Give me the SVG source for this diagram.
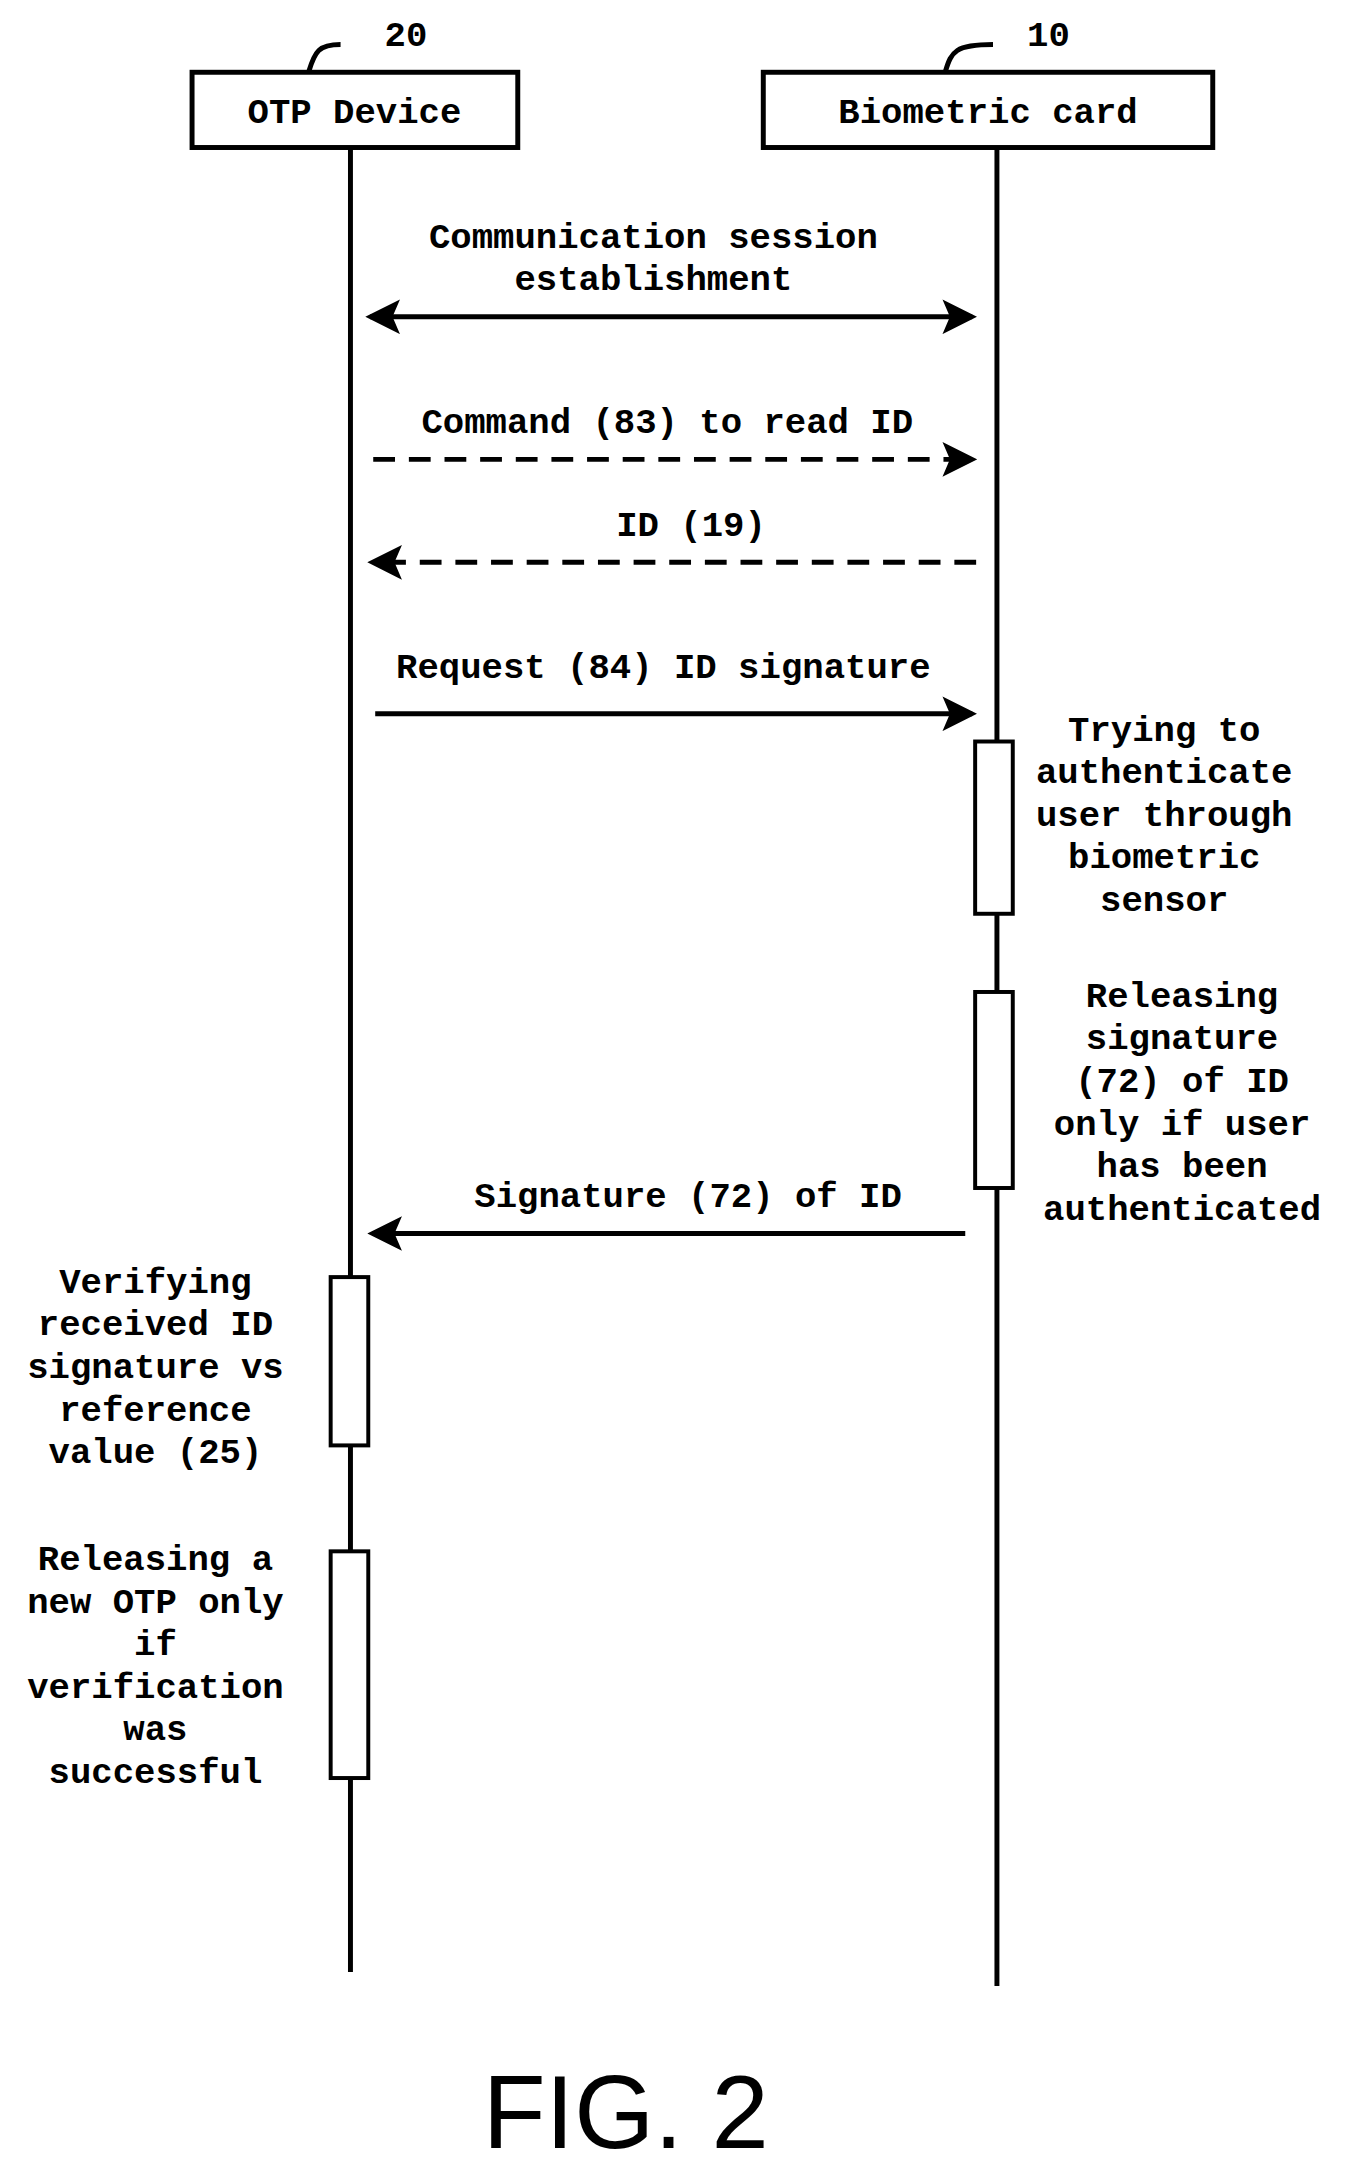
<svg xmlns="http://www.w3.org/2000/svg" width="1349" height="2181" viewBox="0 0 1349 2181">
<style>
.t{font-family:"Liberation Mono","Courier New",monospace;font-weight:bold;font-size:36px;fill:#000;text-anchor:middle}
.b{fill:#fff;stroke:#000;stroke-width:5}
.a{fill:#fff;stroke:#000;stroke-width:4}
.l{stroke:#000;stroke-width:5;fill:none}
.d{stroke-dasharray:22,14}
</style>
<defs>
<marker id="ah" markerWidth="7" markerHeight="7" refX="6" refY="3.5" orient="auto-start-reverse" markerUnits="strokeWidth"><path d="M0,0 L7,3.5 L0,7 L1.5,3.5 Z" fill="#000"/></marker>
</defs>
<rect width="1349" height="2181" fill="#fff"/>
<g transform="scale(0.99)">
<g id="otp">
<line class="l" x1="354" y1="149" x2="354" y2="1992"/>
<rect class="b" x="194" y="73" width="329" height="76"/>
<text class="t" x="358" y="124">OTP Device</text>
<path class="l" d="M312,72 C318,52 322,45 344,45" stroke-width="4"/>
<text class="t" x="410" y="46">20</text>
</g>
<g id="card">
<line class="l" x1="1007" y1="149" x2="1007" y2="2006"/>
<rect class="b" x="771" y="73" width="454" height="76"/>
<text class="t" x="998" y="124">Biometric card</text>
<path class="l" d="M955,72 C961,52 965,45 1003,45" stroke-width="4"/>
<text class="t" x="1059" y="46">10</text>
</g>
<g id="act1"><rect class="a" x="985" y="749" width="38" height="174"/>
<text class="t"><tspan x="1176" y="748">Trying to</tspan><tspan x="1176" y="791">authenticate</tspan><tspan x="1176" y="834">user through</tspan><tspan x="1176" y="877">biometric</tspan><tspan x="1176" y="920">sensor</tspan></text></g>
<g id="act2"><rect class="a" x="985" y="1002" width="38" height="198"/>
<text class="t"><tspan x="1194" y="1017">Releasing</tspan><tspan x="1194" y="1060">signature</tspan><tspan x="1194" y="1103">(72) of ID</tspan><tspan x="1194" y="1146">only if user</tspan><tspan x="1194" y="1189">has been</tspan><tspan x="1194" y="1232">authenticated</tspan></text></g>
<g id="act3"><rect class="a" x="334" y="1290" width="38" height="170"/>
<text class="t"><tspan x="157" y="1306">Verifying</tspan><tspan x="157" y="1349">received ID</tspan><tspan x="157" y="1392">signature vs</tspan><tspan x="157" y="1435">reference</tspan><tspan x="157" y="1478">value (25)</tspan></text></g>
<g id="act4"><rect class="a" x="334" y="1567" width="38" height="229"/>
<text class="t"><tspan x="157" y="1586">Releasing a</tspan><tspan x="157" y="1629">new OTP only</tspan><tspan x="157" y="1672">if</tspan><tspan x="157" y="1715">verification</tspan><tspan x="157" y="1758">was</tspan><tspan x="157" y="1801">successful</tspan></text></g>
<g id="connectors">
<line class="l" x1="374" y1="320" x2="982" y2="320" marker-start="url(#ah)" marker-end="url(#ah)"/>
<text class="t"><tspan x="660" y="251">Communication session</tspan><tspan x="660" y="293">establishment</tspan></text>
<line class="l d" x1="377" y1="464" x2="982" y2="464" marker-end="url(#ah)"/>
<text class="t" x="674" y="437">Command (83) to read ID</text>
<line class="l d" x1="986" y1="568" x2="376" y2="568" marker-end="url(#ah)"/>
<text class="t" x="698" y="541">ID (19)</text>
<line class="l" x1="379" y1="721" x2="982" y2="721" marker-end="url(#ah)"/>
<text class="t" x="670" y="685">Request (84) ID signature</text>
<line class="l" x1="975" y1="1246" x2="376" y2="1246" marker-end="url(#ah)"/>
<text class="t" x="695" y="1219">Signature (72) of ID</text>
</g>
<text x="632" y="2170" font-family="Liberation Sans,Arial,sans-serif" font-size="104" text-anchor="middle">FIG. 2</text>
</g>
</svg>
